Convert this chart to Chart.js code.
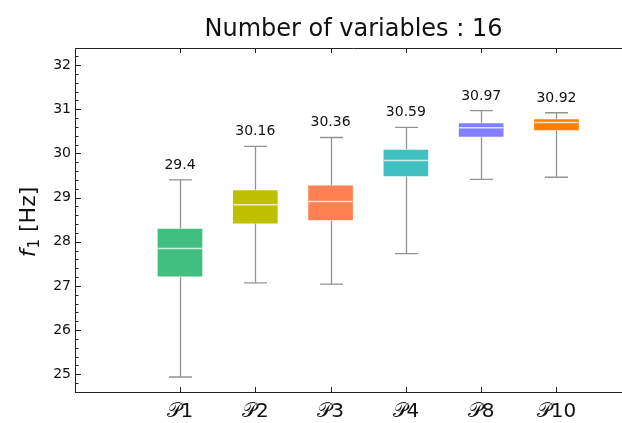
<!DOCTYPE html>
<html>
<head>
<meta charset="utf-8">
<script src="https://cdn.jsdelivr.net/npm/chart.js@4.4.1/dist/chart.umd.min.js"></script>
<style>
    html, body { margin: 0; padding: 0; background: #fff; overflow: hidden; }
    #wrap { width: 640px; height: 423px; position: relative; }
</style>
</head>
<body>
<div id="wrap"><canvas id="boxChart"></canvas></div>
<script>
// --- Data ---
const chartTitle = 'Number of variables : 16';
const groupLabels = ['𝒫1', '𝒫2', '𝒫3', '𝒫4', '𝒫8', '𝒫10'];
const groupPos = [0, 1, 2, 3, 4, 5];
const whiskerLow = [24.94, 27.07, 27.04, 27.73, 29.41, 29.46];
const quartile1 = [27.20, 28.40, 28.47, 29.47, 30.36, 30.51];
const medians = [27.85, 28.84, 28.91, 29.84, 30.58, 30.70];
const quartile3 = [28.31, 29.18, 29.29, 30.10, 30.70, 30.79];
const whiskerHigh = [29.4, 30.16, 30.36, 30.59, 30.97, 30.92];
const boxColors = ['#40c080', '#bfbf00', '#ff8050', '#40c0c0', '#8080ff', '#ff8000'];
const yTicks = [25, 26, 27, 28, 29, 30, 31, 32];

const FONT = "'DejaVu Sans', sans-serif";
const BOX_W = 46;
const CAP_W = 23;

// --- Whiskers, medians, value labels, inward ticks, titles ---
const boxExtras = {
    id: 'boxExtras',
    beforeDatasetsDraw(chart) {
        const { ctx, scales: { x, y } } = chart;
        ctx.save();
        ctx.strokeStyle = 'rgba(128,128,128,0.85)';
        ctx.lineWidth = 1.3;
        groupPos.forEach((p, i) => {
            const cx = Math.round(x.getPixelForValue(p)) + 0.5;
            const yLo = y.getPixelForValue(whiskerLow[i]);
            const yHi = y.getPixelForValue(whiskerHigh[i]);
            ctx.beginPath();
            ctx.moveTo(cx, yLo);
            ctx.lineTo(cx, yHi);
            ctx.moveTo(cx - CAP_W / 2, yLo);
            ctx.lineTo(cx + CAP_W / 2, yLo);
            ctx.moveTo(cx - CAP_W / 2, yHi);
            ctx.lineTo(cx + CAP_W / 2, yHi);
            ctx.stroke();
        });
        ctx.restore();
    },
    afterDatasetsDraw(chart) {
        const { ctx, chartArea: area, scales: { x, y } } = chart;
        ctx.save();

        // median lines
        ctx.strokeStyle = 'rgba(255,255,255,0.75)';
        ctx.lineWidth = 1.5;
        groupPos.forEach((p, i) => {
            const cx = x.getPixelForValue(p);
            const my = y.getPixelForValue(medians[i]);
            ctx.beginPath();
            ctx.moveTo(cx - BOX_W / 2 + 1, my);
            ctx.lineTo(cx + BOX_W / 2 - 1, my);
            ctx.stroke();
        });

        // max value above each upper whisker
        ctx.fillStyle = '#111';
        ctx.font = '14px ' + FONT;
        ctx.textAlign = 'center';
        ctx.textBaseline = 'alphabetic';
        groupPos.forEach((p, i) => {
            ctx.fillText(String(whiskerHigh[i]), x.getPixelForValue(p), y.getPixelForValue(whiskerHigh[i]) - 11);
        });

        // title, centred over the plot area
        ctx.font = '24px ' + FONT;
        ctx.fillText(chartTitle, (area.left + area.right) / 2, 36);

        // frame top line and inward tick marks
        ctx.strokeStyle = '#222';
        ctx.lineWidth = 1;
        ctx.beginPath();
        ctx.moveTo(area.left, area.top + 0.5);
        ctx.lineTo(area.right, area.top + 0.5);
        groupPos.forEach(p => {
            const px = Math.round(x.getPixelForValue(p)) + 0.5;
            ctx.moveTo(px, area.bottom);
            ctx.lineTo(px, area.bottom - 5);
            ctx.moveTo(px, area.top);
            ctx.lineTo(px, area.top + 5);
        });
        for (let v = 248; v <= 322; v += 2) {
            const val = v / 10;
            if (val < y.min || val > y.max) continue;
            const py = Math.round(y.getPixelForValue(val)) + 0.5;
            const len = v % 10 === 0 ? 6 : 3.5;
            ctx.moveTo(area.left, py);
            ctx.lineTo(area.left + len, py);
        }
        ctx.stroke();

        // y axis title: f_1 [Hz]
        ctx.translate(27, 222);
        ctx.rotate(-Math.PI / 2);
        ctx.textAlign = 'left';
        const fFont = 'italic 22px ' + FONT;
        const subFont = '15px ' + FONT;
        const restFont = '22px ' + FONT;
        ctx.font = fFont;
        const wF = ctx.measureText('f').width;
        ctx.font = subFont;
        const wSub = ctx.measureText('1').width;
        ctx.font = restFont;
        const wRest = ctx.measureText(' [Hz]').width;
        let tx = -(wF + wSub + 1 + wRest) / 2;
        const base = 8;
        ctx.font = fFont;
        ctx.fillText('f', tx, base);
        tx += wF + 1;
        ctx.font = subFont;
        ctx.fillText('1', tx, base + 4);
        tx += wSub;
        ctx.font = restFont;
        ctx.fillText(' [Hz]', tx, base);

        ctx.restore();
    }
};

// --- Chart ---
new Chart(document.getElementById('boxChart'), {
    type: 'bar',
    data: {
        datasets: [{
            data: groupPos.map((p, i) => ({ x: p, y: [quartile1[i], quartile3[i]] })),
            backgroundColor: boxColors,
            borderColor: 'rgba(255,255,255,0.55)',
            borderWidth: 1,
            borderSkipped: false,
            barThickness: BOX_W
        }]
    },
    options: {
        responsive: true,
        maintainAspectRatio: false,
        animation: false,
        layout: { padding: { left: 53, right: 8, top: 48, bottom: 1 } },
        plugins: {
            legend: { display: false },
            tooltip: { enabled: false },
            title: { display: false }
        },
        scales: {
            x: {
                type: 'linear',
                offset: false,
                min: -1.394,
                max: 6.003,
                grid: { display: false, drawTicks: false },
                border: { display: true, color: '#222', width: 1 },
                afterBuildTicks: (scale) => { scale.ticks = groupPos.map(v => ({ value: v })); },
                afterFit: (scale) => { scale.height = 30; },
                ticks: {
                    color: '#111',
                    padding: 10,
                    font: { family: FONT, size: 20, lineHeight: 1 },
                    callback: (value) => groupLabels[groupPos.indexOf(value)] ?? ''
                }
            },
            y: {
                min: 24.6,
                max: 32.385,
                grid: { display: false, drawTicks: false },
                border: { display: true, color: '#222', width: 1 },
                afterBuildTicks: (scale) => { scale.ticks = yTicks.map(v => ({ value: v })); },
                afterFit: (scale) => { scale.width = 22; },
                ticks: {
                    color: '#111',
                    padding: 4,
                    font: { family: FONT, size: 14 }
                }
            }
        }
    },
    plugins: [boxExtras]
});
</script>
</body>
</html>
